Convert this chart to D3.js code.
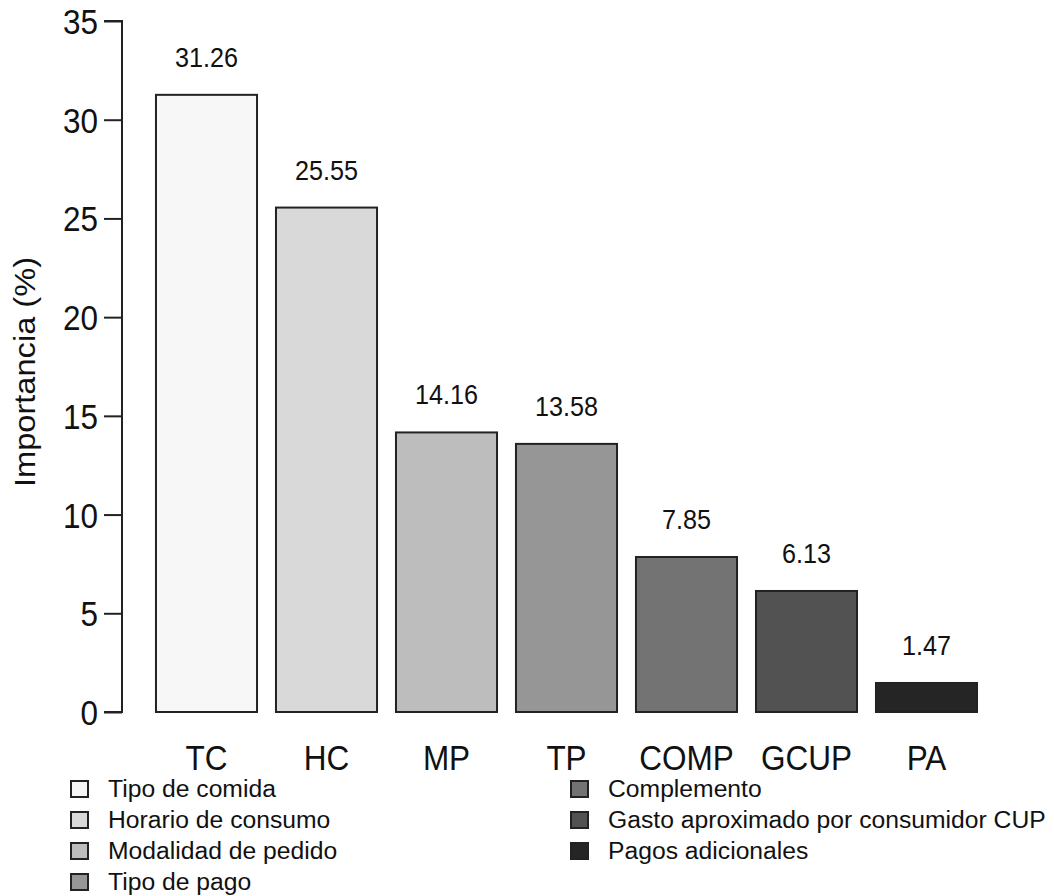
<!DOCTYPE html>
<html>
<head>
<meta charset="utf-8">
<script src="https://cdn.jsdelivr.net/npm/d3@7"></script>
<style>
  html, body { margin: 0; padding: 0; background: #fff; }
  svg { display: block; font-family: "Liberation Sans", Arial, sans-serif; }
</style>
</head>
<body>
<svg id="chart" width="1054" height="896"></svg>
<script>
// Importance of each factor (%)
const codes = ["TC", "HC", "MP", "TP", "COMP", "GCUP", "PA"];
const values = [31.26, 25.55, 14.16, 13.58, 7.85, 6.13, 1.47];
const names = [
  "Tipo de comida",
  "Horario de consumo",
  "Modalidad de pedido",
  "Tipo de pago",
  "Complemento",
  "Gasto aproximado por consumidor CUP",
  "Pagos adicionales"
];
const fills = ["#f7f7f7", "#d9d9d9", "#bdbdbd", "#969696", "#737373", "#525252", "#252525"];
const yTicks = [0, 5, 10, 15, 20, 25, 30, 35];
const yTitle = "Importancia (%)";

const data = codes.map((c, i) => ({ code: c, value: values[i], name: names[i], fill: fills[i] }));

const svg = d3.select("#chart");
const ink = "#222";

const x = d3.scaleBand()
  .domain(codes)
  .range([146.5, 986.5])
  .paddingInner(0.158)
  .paddingOuter(0.079);

const y = d3.scaleLinear().domain([0, 35]).range([712, 21]);

// horizontally squeezed text, as the labels appear narrow
const narrow = 0.9;

// y axis
const yAxis = d3.axisLeft(y).tickValues(yTicks).tickSize(18).tickPadding(6).tickFormat(d3.format("d"));
const gy = svg.append("g").attr("transform", "translate(122,0)").call(yAxis);
gy.select(".domain").attr("d", `M-18,${y(35)}H0V${y(0)}H-18`).attr("stroke", ink).attr("stroke-width", 2).attr("fill", "none");
gy.selectAll(".tick line").attr("stroke", ink).attr("stroke-width", 2);
gy.selectAll(".tick text")
  .attr("fill", "#111")
  .style("font-size", "35px")
  .attr("x", null).attr("dy", null)
  .attr("text-anchor", "end")
  .attr("transform", `translate(-24,12.5) scale(${narrow},1)`);

// y title
svg.append("text")
  .attr("transform", `translate(35,372) scale(${narrow},1) rotate(-90)`)
  .attr("text-anchor", "middle")
  .attr("fill", "#111")
  .style("font-size", "32.6px")
  .text(yTitle);

// bars
svg.append("g").selectAll("rect").data(data).join("rect")
  .attr("x", d => x(d.code))
  .attr("y", d => y(d.value))
  .attr("width", x.bandwidth())
  .attr("height", d => y(0) - y(d.value))
  .attr("fill", d => d.fill)
  .attr("stroke", ink)
  .attr("stroke-width", 2);

// value labels
svg.append("g").selectAll("text").data(data).join("text")
  .attr("transform", d => `translate(${x(d.code) + x.bandwidth() / 2},${y(d.value) - 28}) scale(${narrow},1)`)
  .attr("text-anchor", "middle")
  .attr("fill", "#111")
  .style("font-size", "28px")
  .text(d => d.value.toFixed(2));

// category labels
svg.append("g").selectAll("text").data(data).join("text")
  .attr("transform", d => `translate(${x(d.code) + x.bandwidth() / 2},770) scale(${narrow},1)`)
  .attr("text-anchor", "middle")
  .attr("fill", "#111")
  .style("font-size", "35px")
  .text(d => d.code);

// legend: two columns, four rows then three
const legendCols = [70, 570];
const legendRow = 31;
const legend = svg.append("g").selectAll("g").data(data).join("g")
  .attr("transform", (d, i) => `translate(${legendCols[i < 4 ? 0 : 1]},${780 + (i < 4 ? i : i - 4) * legendRow})`);
legend.append("rect")
  .attr("x", 1).attr("y", 1)
  .attr("width", 17).attr("height", 16)
  .attr("fill", d => d.fill)
  .attr("stroke", ink)
  .attr("stroke-width", 2);
legend.append("text")
  .attr("transform", "translate(38,17) scale(1.06,1)")
  .attr("fill", "#111")
  .style("font-size", "23.3px")
  .text(d => d.name);
</script>
</body>
</html>
